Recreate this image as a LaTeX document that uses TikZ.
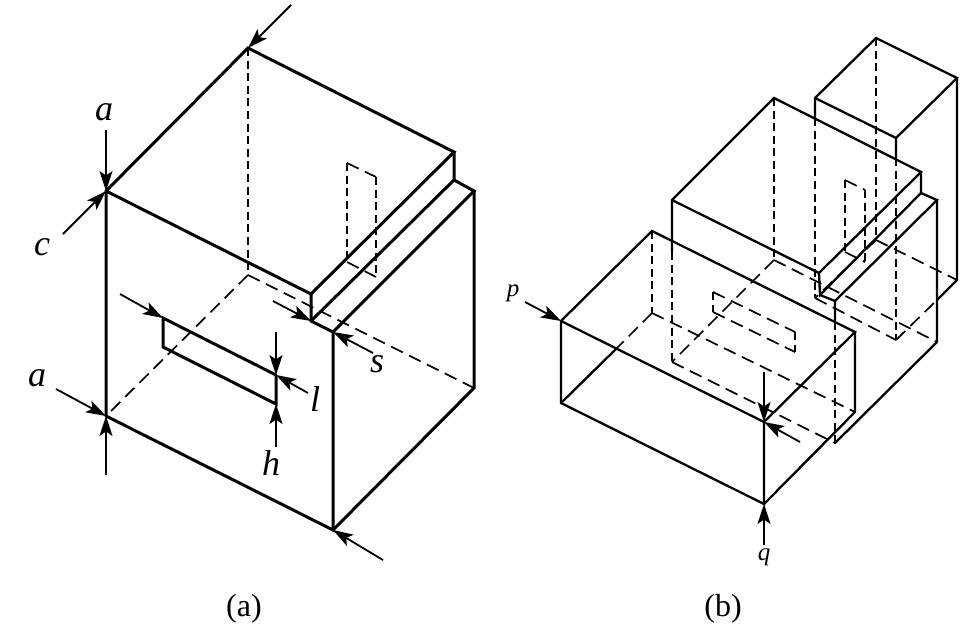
\documentclass[tikz,border=0pt]{standalone}
\usepackage{fontspec}
\setmainfont{Liberation Serif}
\usetikzlibrary{arrows.meta}
\tikzset{
  heavy/.style={line width=3pt,line join=miter,line cap=round},
  medium/.style={line width=2.3pt,line join=miter,line cap=round},
  hidden/.style={line width=1.7pt,dash pattern=on 8pt off 4.6pt},
  hiddenlong/.style={line width=1.7pt,dash pattern=on 13pt off 7pt},
  dim/.style={line width=1.8pt,-{Stealth[length=20pt,width=13pt,inset=4.5pt]}},
  lab/.style={font=\fontsize{36}{36}\selectfont\itshape,inner sep=0pt},
  slab/.style={font=\fontsize{25}{25}\selectfont\itshape,inner sep=0pt},
  captext/.style={font=\fontsize{32}{32}\selectfont,inner sep=0pt}
}
\begin{document}
\begin{tikzpicture}[x=1pt,y=-1pt]
\useasboundingbox (0,0) rectangle (969,635);
% ===== (a) =====
\coordinate (A) at (106,191);
\coordinate (B) at (248,48);
\coordinate (C) at (454,152);
\coordinate (D) at (311,294);
\coordinate (E) at (311,321);
\coordinate (F) at (454,180);
\coordinate (G) at (474,191);
\coordinate (H) at (333,332);
\coordinate (I) at (333,530);
\coordinate (J) at (474,388);
\coordinate (K) at (106,416);
\coordinate (L) at (248,275);
\coordinate (S1) at (163,318);
\coordinate (S2) at (163,347);
\coordinate (S3) at (276,375);
\coordinate (S4) at (276,404);
\coordinate (T1) at (347,163);
\coordinate (T2) at (376,177);
\coordinate (T3) at (347,262);
\coordinate (T4) at (376,277);
\draw[hidden] (B)--(L) (T2)--(T4) (T1)--(T3);
\draw[hiddenlong] (L)--(K) (L)--(J) (T1)--(T2) (T3)--(T4);
\draw[heavy] (K)--(A)--(B)--(C)--(D)--(A);
\draw[heavy] (K)--(I)--(H)--(E)--(D);
\draw[heavy] (C)--(F)--(E);
\draw[heavy] (F)--(G)--(H);
\draw[heavy] (G)--(J)--(I);
\draw[heavy] (S3)--(S1)--(S2)--(S4)--(S3);
\coordinate (d1) at (106,130);
\coordinate (d2) at (63,234);
\coordinate (d3) at (56,389);
\coordinate (d4) at (106,475);
\coordinate (d5) at (291,5);
\coordinate (d6) at (383,560);
\coordinate (d7) at (120,294);
\coordinate (d8) at (276,332);
\coordinate (d9) at (276,447);
\coordinate (d10) at (308,393);
\coordinate (d11) at (373,353);
\coordinate (d12) at (273,301);
\draw[dim] (d1)--(A);
\draw[dim] (d2)--(A);
\draw[dim] (d3)--(K);
\draw[dim] (d4)--(K);
\draw[dim] (d5)--(B);
\draw[dim] (d6)--(I);
\draw[dim] (d7)--(S1);
\draw[dim] (d8)--(S3);
\draw[dim] (d9)--(S4);
\draw[dim] (d10)--(S3);
\draw[dim] (d11)--(H);
\draw[dim] (d12)--(E);
\node[lab] (la1) at (104,112) {a};
\node[lab] (lc) at (42,247) {c};
\node[lab] (la2) at (37,378) {a};
\node[lab] (ll) at (315,399) {l};
\node[lab] (lh) at (271,463) {h};
\node[lab] (ls) at (377,364) {s};
\node[captext] (capa) at (244,609) {(a)};
% ===== (b) =====
\coordinate (a1) at (774,98);
\coordinate (a2) at (672,200);
\coordinate (a3) at (921,172);
\coordinate (a4) at (819,273);
\coordinate (a5) at (820,295);
\coordinate (a6) at (921,193);
\coordinate (a7) at (937,200);
\coordinate (a8) at (835,301);
\coordinate (a9) at (835,443);
\coordinate (a10) at (937,342);
\coordinate (a11) at (672,362);
\coordinate (a12) at (774,260);
\coordinate (a13) at (672,252);
\coordinate (a14) at (835,322);
% tall block
\coordinate (t1) at (876,38);
\coordinate (t2) at (815,98);
\coordinate (t3) at (957,78);
\coordinate (t4) at (896,138);
\coordinate (t5) at (815,118);
\coordinate (t6) at (896,158);
\coordinate (t7) at (957,280);
\coordinate (t8) at (937,300);
\coordinate (t9) at (896,340);
\coordinate (t10) at (815,298);
\coordinate (t11) at (876,240);
% front block
\coordinate (f1) at (652,231);
\coordinate (f2) at (561,321);
\coordinate (f3) at (855,332);
\coordinate (f4) at (764,422);
\coordinate (f5) at (561,403);
\coordinate (f6) at (764,504);
\coordinate (f7) at (855,412);
\coordinate (f8) at (652,313);
\coordinate (f9) at (616,349);
% slots
\coordinate (p1) at (713,292);
\coordinate (p2) at (713,312);
\coordinate (p3) at (795,332);
\coordinate (p4) at (795,352);
\coordinate (r1) at (845,180);
\coordinate (r2) at (865,190);
\coordinate (r3) at (845,252);
\coordinate (r4) at (865,262);
\draw[hidden] (a1)--(a12) (a13)--(a11) (a14)--(a9);
\draw[hiddenlong] (a12)--(a11) (a12)--(a10) (a11)--(a9);
\draw[hidden] (t1)--(t11) (t5)--(t10) (t6)--(t9);
\draw[hiddenlong] (t11)--(t7) (t11)--(t10) (t10)--(t9) (t9)--(t8);
\draw[hidden] (f1)--(f8) (p1)--(p2) (p3)--(p4) (r1)--(r3) (r2)--(r4);
\draw[hiddenlong] (f8)--(f9) (f8)--(f7) (p1)--(p3) (p2)--(p4) (r1)--(r2) (r3)--(r4);
\draw[medium] (t2)--(t1)--(t3)--(t4)--(t2);
\draw[medium] (t2)--(t5) (t4)--(t6) (t3)--(t7)--(t8);
\draw[medium] (a2)--(a1)--(a3)--(a4)--(a2);
\draw[medium] (a2)--(a13) (a3)--(a6)--(a5)--(a4);
\draw[medium] (a6)--(a7)--(a8)--(a5);
\draw[medium] (a7)--(a10)--(a9) (a14)--(a8);
\draw[medium] (f2)--(f1)--(f3)--(f4)--(f2);
\draw[medium] (f2)--(f5)--(f6)--(f4);
\draw[medium] (f3)--(f7)--(f6);
\draw[medium] (f5)--(f9);
\coordinate (q1) at (525,302);
\coordinate (q2) at (764,372);
\coordinate (q3) at (764,545);
\coordinate (q4) at (800,442);
\draw[dim] (q1)--(f2);
\draw[dim] (q2)--(f4);
\draw[dim] (q3)--(f6);
\draw[dim] (q4)--(f4);
\node[slab] (lp) at (513,293) {p};
\node[slab] (lq) at (764,557) {q};
\node[captext] (capb) at (723,609) {(b)};
\end{tikzpicture}
\end{document}
